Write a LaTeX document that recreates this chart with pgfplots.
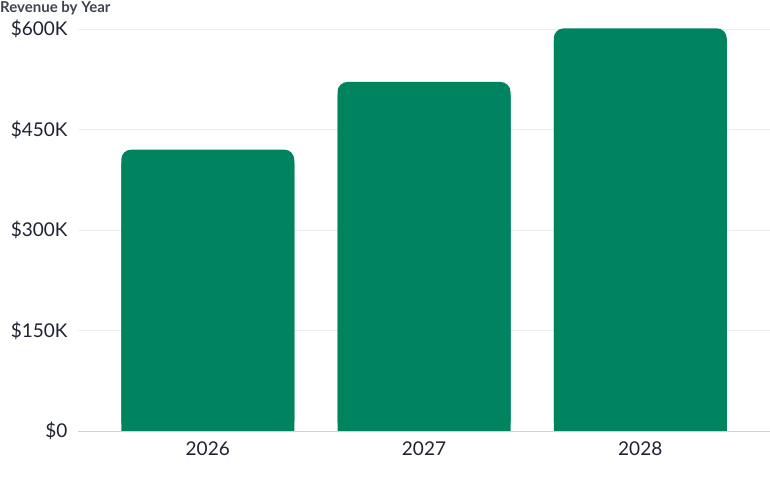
\documentclass[border=0pt]{standalone}
\usepackage{pgfplots}
\pgfplotsset{compat=1.18}
\usepackage{fontspec}
\setmainfont{Lato}
\definecolor{bargreen}{HTML}{008460}
\definecolor{gridgray}{HTML}{EDEDED}
\definecolor{basegray}{HTML}{D2D2D2}
\definecolor{labelnavy}{HTML}{1F2233}
\definecolor{titlegray}{HTML}{3E4352}
\begin{document}
\begin{tikzpicture}
    \path[use as bounding box] (0pt,0pt) rectangle (770pt,477pt);
    \node[anchor=west, inner sep=0pt, font=\bfseries\fontsize{15}{17}\selectfont, text=titlegray]
        at (0pt,468.5pt) {Revenue by Year};
    \begin{axis}[
        at={(78pt,46pt)}, anchor=south west,
        scale only axis,
        width=692pt, height=402pt,
        xmin=-0.6, xmax=2.6,
        ymin=0, ymax=600,
        axis line style={draw=none},
        clip=false,
        xtick={0,1,2},
        xticklabels={2026,2027,2028},
        ytick={0,150,300,450,600},
        yticklabels={\$0,\$150K,\$300K,\$450K,\$600K},
        ymajorgrids,
        grid style={gridgray, line width=0.8pt},
        major tick length=0pt,
        ticklabel style={font=\fontsize{19}{21}\selectfont, text=labelnavy},
        yticklabel style={xshift=-7pt},
        xticklabel style={yshift=-7pt},
        ybar, bar width=0.8, bar shift=0pt,
    ]
    % rounded full bars, then square lower parts to square the bottom corners
    \addplot[fill=bargreen, draw=none, rounded corners=10pt] coordinates {
        (0,420) (1,521) (2,601)
    };
    \addplot[fill=bargreen, draw=none] coordinates {
        (0,400) (1,501) (2,581)
    };
    \draw[basegray, line width=0.8pt] (axis cs:-0.6,0) -- (axis cs:2.6,0);
    \end{axis}
\end{tikzpicture}
\end{document}
